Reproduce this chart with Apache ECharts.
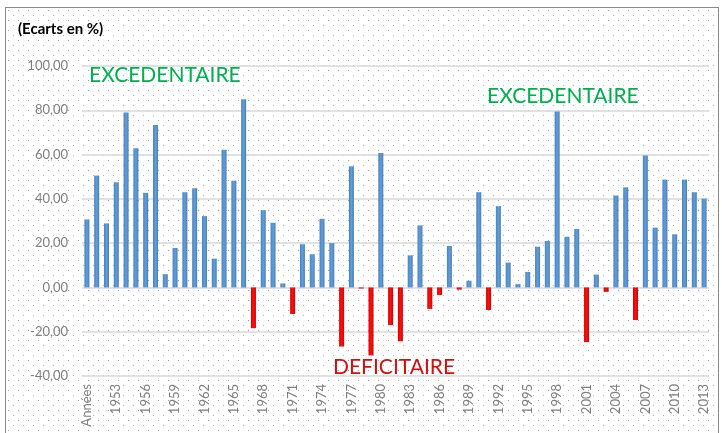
<!DOCTYPE html>
<html>
<head>
<meta charset="utf-8">
<script src="https://cdn.jsdelivr.net/npm/echarts@6/dist/echarts.min.js"></script>
<style>
  html, body { margin: 0; padding: 0; background: #ffffff; }
  #wrap { position: relative; width: 722px; height: 433px; overflow: hidden; background: #ffffff; }
  #frame { position: absolute; left: 5px; top: 7px; width: 712px; height: 450px; border: 1.5px solid #8a8a8a; }
  #chart { position: absolute; left: 0; top: 0; width: 722px; height: 433px; }
</style>
</head>
<body>
<div id="wrap">
  <div id="frame"></div>
  <div id="chart"></div>
</div>
<script>
// Category labels (x axis)
var categories = ['Années',
  '1951','1952','1953','1954','1955','1956','1957','1958','1959','1960',
  '1961','1962','1963','1964','1965','1966','1967','1968','1969','1970',
  '1971','1972','1973','1974','1975','1976','1977','1978','1979','1980',
  '1981','1982','1983','1984','1985','1986','1987','1988','1989','1990',
  '1991','1992','1993','1994','1995','1996','1997','1998','1999','2000',
  '2001','2002','2003','2004','2005','2006','2007','2008','2009','2010',
  '2011','2012','2013'];

// Ecarts en %
var values = [30.7,
  50.5, 28.9, 47.5, 79.0, 62.9, 42.7, 73.4, 6.0, 17.8, 43.0,
  44.8, 32.2, 13.0, 62.2, 48.2, 85.0, -18.4, 34.9, 29.2, 1.8,
  -12.0, 19.5, 15.0, 31.0, 20.0, -26.7, 54.7, -0.5, -30.7, 60.7,
  -17.0, -24.3, 14.5, 28.0, -9.7, -3.4, 18.7, -1.0, 3.0, 43.0,
  -10.2, 36.7, 11.2, 1.5, 7.0, 18.4, 21.0, 79.4, 22.9, 26.4,
  -24.7, 5.8, -2.0, 41.5, 45.2, -14.7, 59.6, 27.0, 48.7, 24.0,
  48.7, 43.0, 40.1];

// Y axis ticks
var yMin = -40, yMax = 100, yStep = 20;

// Split into excédentaire / déficitaire series
var positive = values.map(function (v) { return v >= 0 ? v : '-'; });
var negative = values.map(function (v) { return v < 0 ? v : '-'; });

// dotted background pattern
(function () {
  var c = document.createElement('canvas');
  c.width = 10; c.height = 10;
  var g = c.getContext('2d');
  g.fillStyle = '#ffffff';
  g.fillRect(0, 0, 10, 10);
  g.fillStyle = '#9a9a9a';
  g.fillRect(2, 2, 1, 1);
  g.fillStyle = '#b0b0b0';
  g.fillRect(7, 7, 1, 1);
  var f = document.getElementById('frame');
  f.style.backgroundImage = 'url(' + c.toDataURL() + ')';
  f.style.backgroundRepeat = 'repeat';
})();

var chart = echarts.init(document.getElementById('chart'), null, { renderer: 'canvas' });
var FONT = 'Lato, "Open Sans", sans-serif';

chart.setOption({
  backgroundColor: 'transparent',
  animation: false,
  grid: { left: 82, right: 13, top: 66, bottom: 57, containLabel: false },
  xAxis: {
    type: 'category',
    data: categories,
    position: 'bottom',
    axisLine: { show: false, onZero: false },
    axisTick: { show: false },
    axisLabel: {
      interval: 2,
      rotate: 90,
      margin: 8,
      color: '#7f7f7f',
      fontFamily: FONT,
      fontSize: 13
    },
    splitLine: { show: false }
  },
  yAxis: {
    type: 'value',
    min: yMin,
    max: yMax,
    interval: yStep,
    axisLine: { show: false },
    axisTick: { show: false },
    axisLabel: {
      margin: 14,
      color: '#7f7f7f',
      fontFamily: FONT,
      fontSize: 13,
      formatter: function (v) { return v.toFixed(2).replace('.', ','); }
    },
    splitLine: { show: true, lineStyle: { color: '#d9d9d9', width: 1.5 } }
  },
  series: [
    {
      name: 'Excédentaire',
      type: 'bar',
      stack: 'ecart',
      data: positive,
      barWidth: 5,
      itemStyle: {
        color: new echarts.graphic.LinearGradient(0, 0, 1, 0, [
          { offset: 0, color: '#4682c0' },
          { offset: 0.5, color: '#639ed8' },
          { offset: 1, color: '#447fba' }
        ])
      }
    },
    {
      name: 'Déficitaire',
      type: 'bar',
      stack: 'ecart',
      data: negative,
      barWidth: 5,
      itemStyle: {
        color: new echarts.graphic.LinearGradient(0, 0, 1, 0, [
          { offset: 0, color: '#d80000' },
          { offset: 0.5, color: '#ff1010' },
          { offset: 1, color: '#d00000' }
        ])
      }
    }
  ],
  graphic: [
    {
      type: 'text', left: 18, top: 22,
      style: { text: '(Ecarts en %)', fill: '#000000', font: 'bold 15px ' + FONT }
    },
    {
      type: 'text', left: 89, top: 65,
      style: { text: 'EXCEDENTAIRE', fill: '#00b050', font: '21px ' + FONT }
    },
    {
      type: 'text', left: 487, top: 86,
      style: { text: 'EXCEDENTAIRE', fill: '#00b050', font: '21px ' + FONT }
    },
    {
      type: 'text', left: 333, top: 357,
      style: { text: 'DEFICITAIRE', fill: '#d40f0f', font: '21px ' + FONT }
    }
  ]
});
</script>
</body>
</html>
